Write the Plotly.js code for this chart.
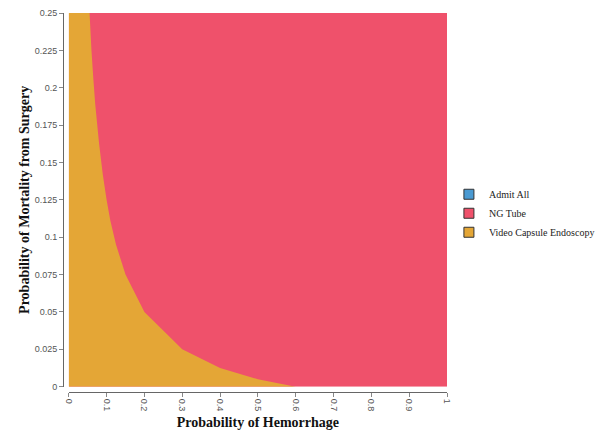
<!DOCTYPE html>
<html>
<head>
<meta charset="utf-8">
<script src="https://cdn.plot.ly/plotly-3.0.1.min.js"></script>
<style>
  body { margin: 0; background: #fff; }
  #myDiv { width: 600px; height: 436px; }
</style>
</head>
<body>
<div id="myDiv"></div>
<script>
// strategies shown in the legend
var strategies = ['Admit All', 'NG Tube', 'Video Capsule Endoscopy'];
var colors = ['#4a9ad2', '#ef516b', '#e4a636'];

// whole analysed region (NG Tube is optimal everywhere outside the boundary)
var fullX = [0, 1, 1, 0];
var fullY = [0, 0, 0.25, 0.25];

// boundary of the Video Capsule Endoscopy region, read from top to bottom
var boundaryX = [0.055, 0.06, 0.065, 0.07, 0.08, 0.09, 0.1, 0.11, 0.125, 0.15, 0.2, 0.3, 0.4, 0.5, 0.6];
var boundaryY = [0.25, 0.225, 0.206, 0.189, 0.163, 0.142, 0.125, 0.111, 0.095, 0.075, 0.05, 0.025, 0.0125, 0.005, 0];

var vceX = [0].concat(boundaryX, [0]);
var vceY = [0.25].concat(boundaryY, [0]);

var ngTube = {
    x: fullX,
    y: fullY,
    mode: 'none',
    fill: 'toself',
    fillcolor: colors[1],
    showlegend: false,
    hoverinfo: 'skip'
};

var vce = {
    x: vceX,
    y: vceY,
    mode: 'none',
    fill: 'toself',
    fillcolor: colors[2],
    showlegend: false,
    hoverinfo: 'skip'
};

// legend-only entries with square swatches
var legendTraces = strategies.map(function (name, i) {
    return {
        x: [null],
        y: [null],
        mode: 'markers',
        name: name,
        marker: {symbol: 'square', size: 10, color: colors[i], line: {color: '#333', width: 1}}
    };
});

var data = [ngTube, vce].concat(legendTraces);

var tickFont = {family: 'Liberation Sans, Arial, sans-serif', size: 9, color: '#555'};
var titleFont = {family: 'Liberation Serif, Times New Roman, serif', size: 14, color: '#111', weight: 'bold'};

var layout = {
    width: 600,
    height: 436,
    margin: {l: 63, r: 153, t: 13, b: 44, autoexpand: false},
    paper_bgcolor: '#fff',
    plot_bgcolor: '#fff',
    showlegend: true,
    xaxis: {
        domain: [0.015, 1],
        range: [0, 1],
        anchor: 'free',
        position: 0,
        dtick: 0.1,
        tickangle: 90,
        tickfont: tickFont,
        ticks: 'outside',
        ticklen: 4,
        tickcolor: '#888',
        showline: true,
        linecolor: '#666',
        showgrid: false,
        zeroline: false,
        title: {text: 'Probability of Hemorrhage', font: titleFont, standoff: 6}
    },
    yaxis: {
        domain: [0.014, 1],
        range: [0, 0.25],
        anchor: 'free',
        position: 0,
        dtick: 0.025,
        tickfont: tickFont,
        ticks: 'outside',
        ticklen: 4,
        tickcolor: '#888',
        showline: true,
        linecolor: '#666',
        showgrid: false,
        zeroline: false,
        title: {text: 'Probability of Mortality from Surgery', font: titleFont, standoff: 0}
    },
    legend: {
        x: 1.005,
        xanchor: 'left',
        y: 0.56,
        yanchor: 'top',
        font: {family: 'Liberation Serif, Times New Roman, serif', size: 10, color: '#222'},
        bgcolor: 'rgba(0,0,0,0)',
        itemwidth: 30
    }
};

Plotly.newPlot('myDiv', data, layout, {displayModeBar: false, staticPlot: true});
</script>
</body>
</html>
